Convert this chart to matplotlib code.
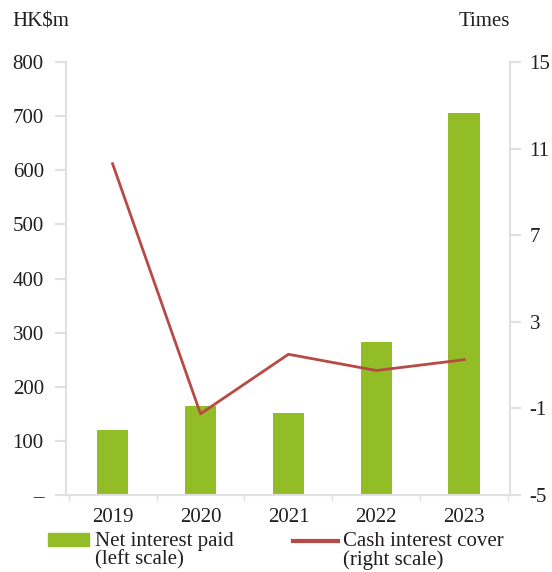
import matplotlib.pyplot as plt
import numpy as np
import matplotlib.patches as mpatches
from matplotlib.lines import Line2D

plt.rcParams['font.family'] = ['Liberation Serif', 'DejaVu Serif']
plt.rcParams['axes.unicode_minus'] = False

years = ['2019', '2020', '2021', '2022', '2023']
interest_paid = [120, 165, 152, 283, 705]
interest_cover = [10.3, -1.25, 1.5, 0.75, 1.25]

left_ticks = [0, 100, 200, 300, 400, 500, 600, 700, 800]
left_labels = ['–', '100', '200', '300', '400', '500', '600', '700', '800']
right_ticks = [-5, -1, 3, 7, 11, 15]

green = '#93BD27'
red = '#B84A46'
grey = '#E0E0E0'
txt = '#231F20'

W, H = 552, 572
fig = plt.figure(figsize=(W/100, H/100), dpi=100)
ax = fig.add_axes([66/W, 1-495/H, 444/W, 433/H])
ax2 = ax.twinx()

ind = np.arange(len(years))
ax.bar(ind, interest_paid, 0.36, color=green, zorder=2)
ax2.plot(ind, interest_cover, color=red, lw=2)

ax.set_xlim(-0.53, 4.52)
ax.set_ylim(0, 800)
ax2.set_ylim(-5, 15)

ax.set_yticks(left_ticks)
ax.set_yticklabels(left_labels)
ax2.set_yticks(right_ticks)
ax.set_xticks(ind)
ax.set_xticklabels(years)
ax.set_xticks(np.arange(-0.5, 5, 1), minor=True)

for a in (ax, ax2):
    for s in a.spines.values():
        s.set_color(grey)
        s.set_linewidth(1.5)
    a.spines['top'].set_visible(False)
ax.spines['right'].set_visible(False)
ax2.spines['left'].set_visible(False)
ax2.spines['bottom'].set_visible(False)

ax.tick_params(axis='y', colors=grey, length=8, width=1.5, pad=8, labelsize=15, labelcolor=txt)
ax2.tick_params(axis='y', colors=grey, length=8, width=1.5, pad=6, labelsize=15, labelcolor=txt)
ax.tick_params(axis='x', which='major', length=0, pad=9, labelsize=15, labelcolor=txt)
ax.tick_params(axis='x', which='minor', length=4, width=1, colors=grey)

fig.text(12/W, 1-22/H, 'HK$m', fontsize=15, color=txt, va='center', ha='left')
fig.text(510/W, 1-22/H, 'Times', fontsize=15, color=txt, va='center', ha='right')

# legend drawn by hand
fig.add_artist(mpatches.Rectangle((48/W, 1-546/H), 41/W, 13/H, color=green,
                                  transform=fig.transFigure))
fig.add_artist(Line2D([293/W, 338/W], [1-541/H, 1-541/H], color=red, lw=3,
                      transform=fig.transFigure))
fig.text(95/W, 1-532/H, 'Net interest paid\n(left scale)', fontsize=15,
         color=txt, va='top', ha='left', linespacing=0.95)
fig.text(343/W, 1-532/H, 'Cash interest cover\n(right scale)', fontsize=15,
         color=txt, va='top', ha='left', linespacing=0.95)

fig.savefig('out.png', dpi=100)
